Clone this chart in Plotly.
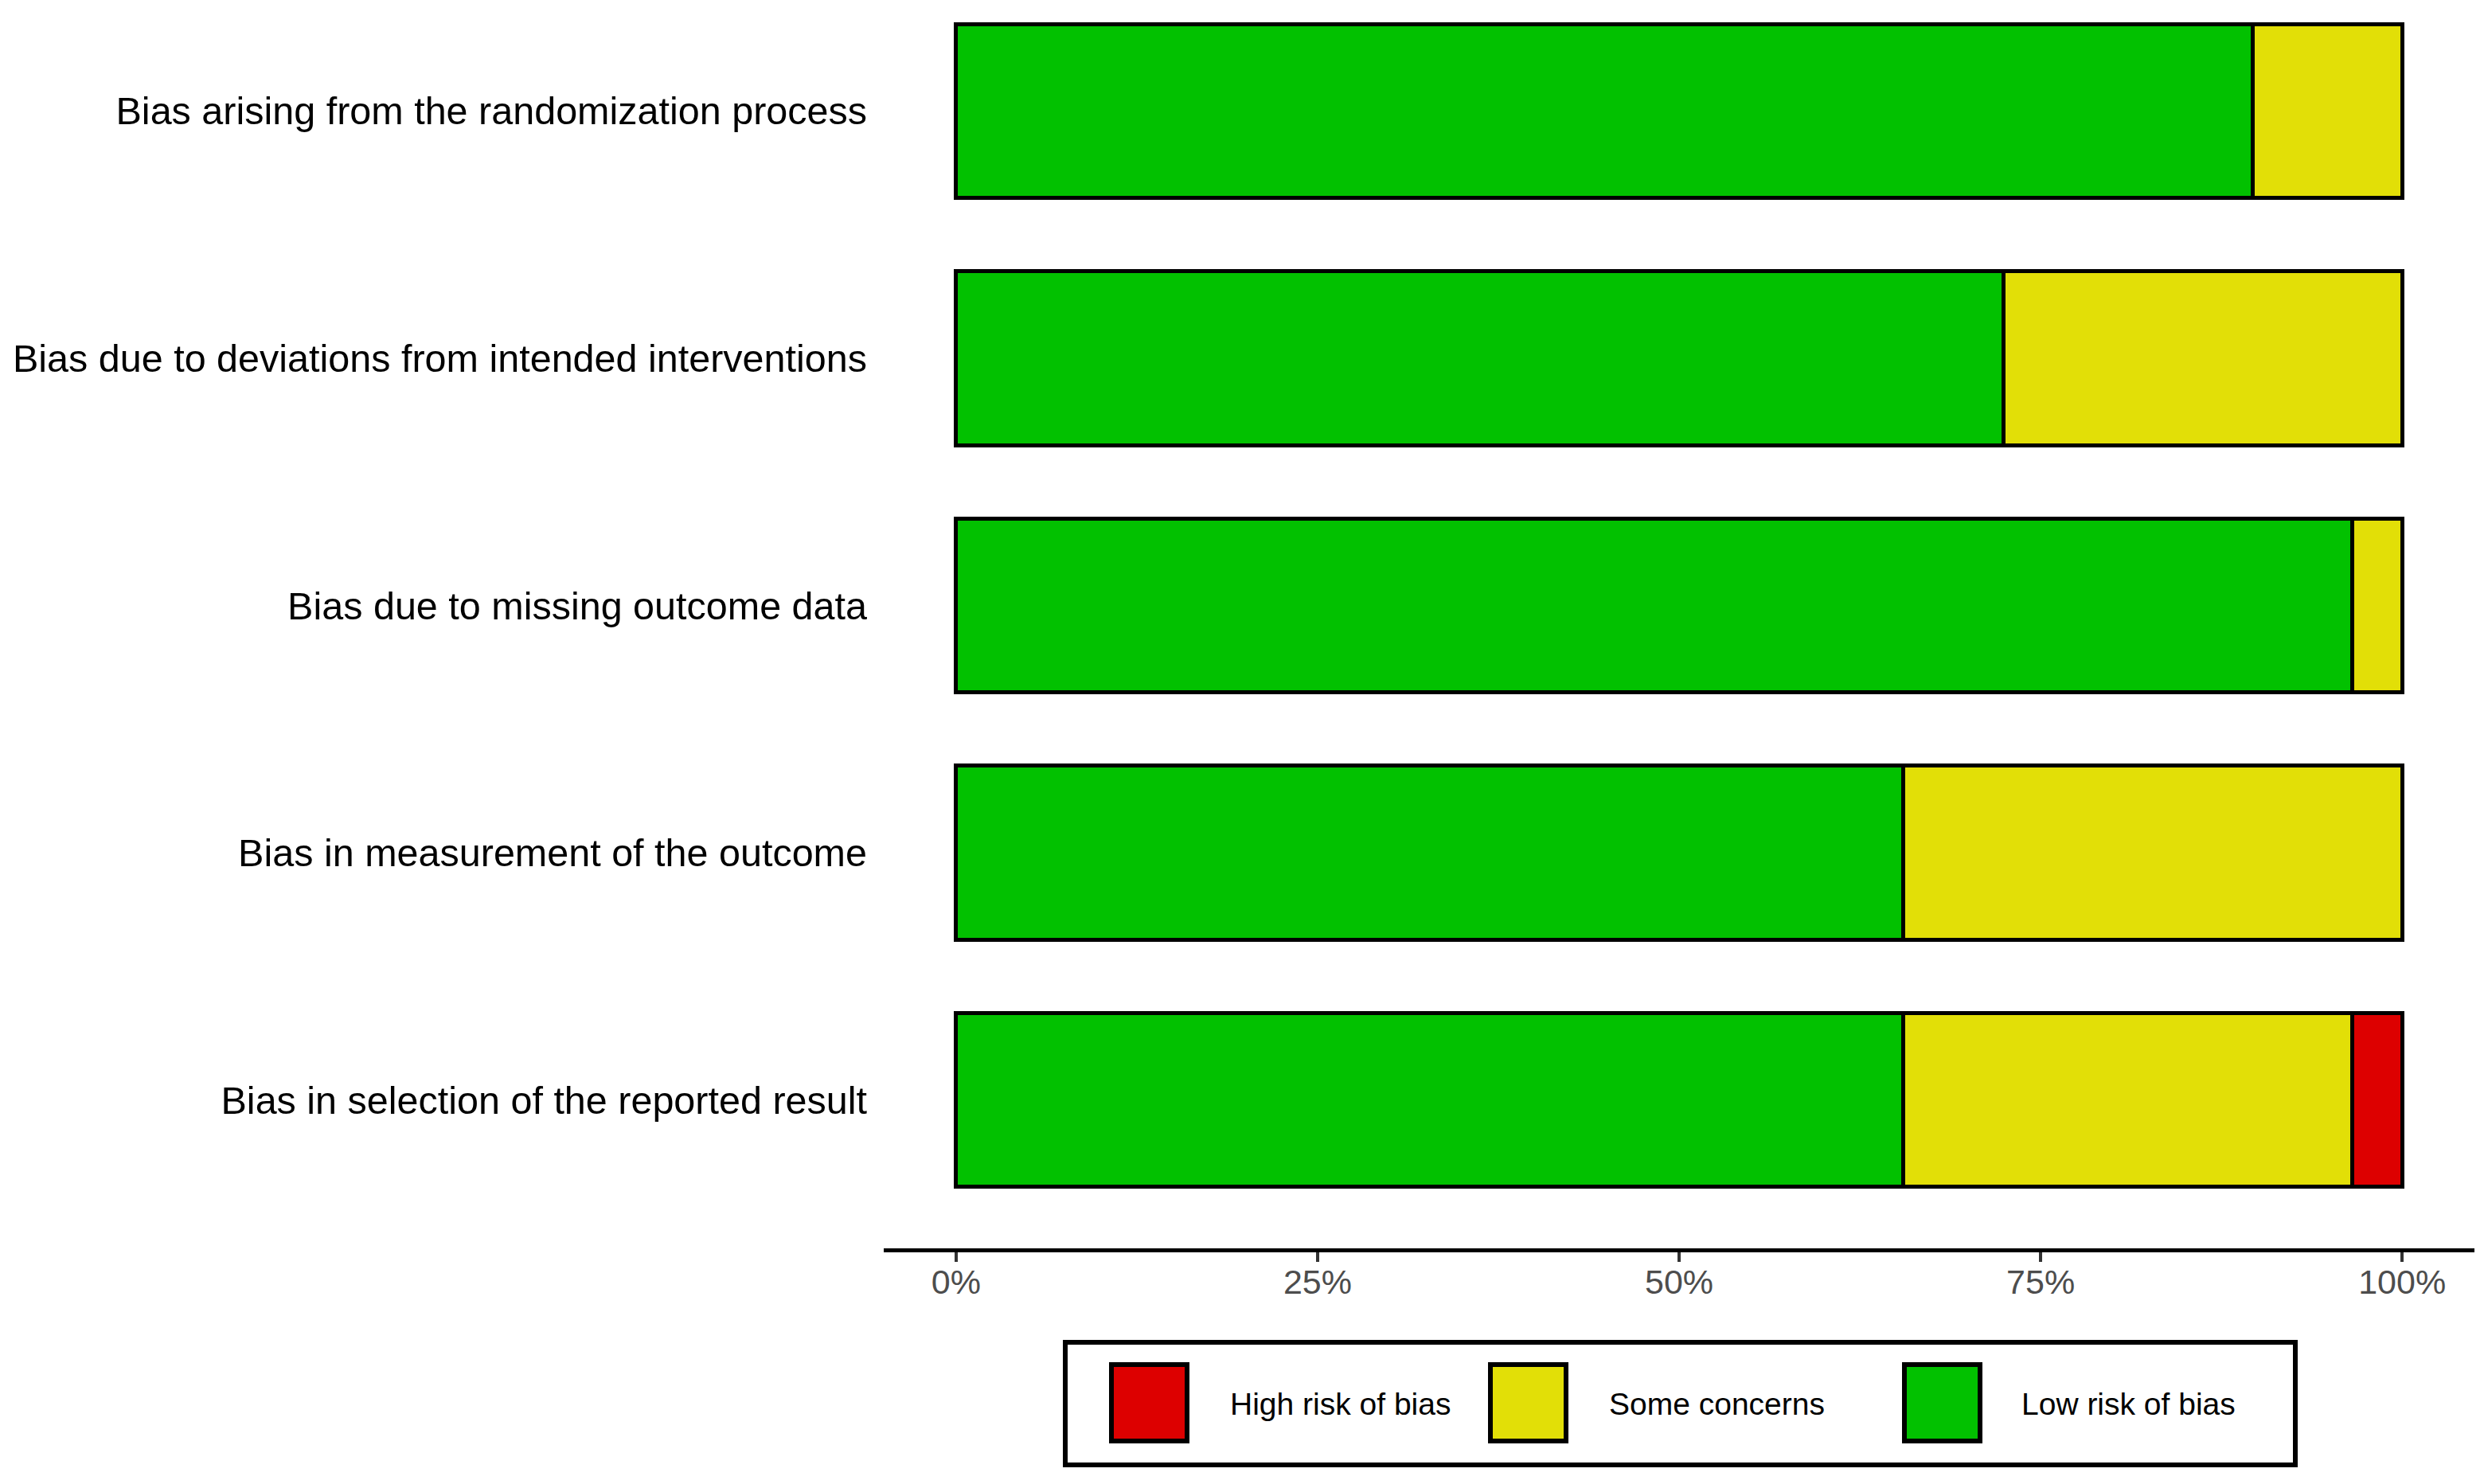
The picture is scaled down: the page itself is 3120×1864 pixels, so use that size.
import plotly.graph_objects as go

# ---- data ----
domains = [
    "Bias arising from the randomization process",
    "Bias due to deviations from intended interventions",
    "Bias due to missing outcome data",
    "Bias in measurement of the outcome",
    "Bias in selection of the reported result",
]
low_risk = [89.66, 72.41, 96.55, 65.52, 65.52]
some_concerns = [10.34, 27.59, 3.45, 34.48, 31.03]
high_risk = [0.0, 0.0, 0.0, 0.0, 3.45]
tick_vals = [0, 25, 50, 75, 100]
tick_text = ["0%", "25%", "50%", "75%", "100%"]
legend_labels = ["High risk of bias", "Some concerns", "Low risk of bias"]

C_LOW = "#02C100"
C_SOME = "#E2DF07"
C_HIGH = "#DD0000"

OFF = 8  # page body margin
W, H = 3120 - OFF, 1864 - OFF
L, R, T, B = 1102, 12, 0, 296
FONT = "Arial, Liberation Sans, sans-serif"


def px2x(px):
    return (px - OFF - L) / (W - L - R)


def py2y(py):
    return (H - B - (py - OFF)) / (H - T - B)


def nz(vals):
    return [v if v > 0 else None for v in vals]


fig = go.Figure()
for name, vals, col in [("Low risk of bias", low_risk, C_LOW),
                        ("Some concerns", some_concerns, C_SOME),
                        ("High risk of bias", high_risk, C_HIGH)]:
    fig.add_trace(go.Bar(
        x=nz(vals), y=domains, orientation="h", name=name,
        marker=dict(color=col, line=dict(color="black", width=5)),
        width=0.703, showlegend=False,
    ))

fig.update_layout(
    width=W, height=H, barmode="stack",
    margin=dict(l=L, r=R, t=T, b=B, autoexpand=False),
    paper_bgcolor="white", plot_bgcolor="white",
    font=dict(family=FONT, color="black"),
    xaxis=dict(range=[-5, 105], tickvals=tick_vals, ticktext=tick_text,
               showgrid=False, zeroline=False, showline=True, linecolor="black",
               linewidth=5, ticks="outside", ticklen=12, tickwidth=4, tickcolor="#333333",
               ticklabelstandoff=-12,
               tickfont=dict(size=43, color="#4D4D4D", family=FONT)),
    yaxis=dict(type="category", categoryorder="array", categoryarray=domains,
               range=[4.6, -0.4235], showgrid=False, zeroline=False, showline=False,
               ticks="", ticklabelstandoff=20,
               tickfont=dict(size=48.5, color="black", family=FONT)),
)

# ---- custom legend (box, keys, labels) ----
shapes = []
annotations = []
shapes.append(dict(type="rect", xref="paper", yref="paper",
                   x0=px2x(1338), x1=px2x(2883), y0=py2y(1686), y1=py2y(1840),
                   line=dict(color="black", width=6), fillcolor="white", layer="above"))
key_x = [1396, 1872, 2392]
lab_x = [1543, 2019, 2537]
for kx, lx, lab, col in zip(key_x, lab_x, legend_labels, [C_HIGH, C_SOME, C_LOW]):
    shapes.append(dict(type="rect", xref="paper", yref="paper",
                       x0=px2x(kx), x1=px2x(kx + 95), y0=py2y(1714), y1=py2y(1810),
                       line=dict(color="black", width=6), fillcolor=col, layer="above"))
    annotations.append(dict(x=px2x(lx), y=py2y(1763), xref="paper", yref="paper",
                            text=lab, showarrow=False, xanchor="left", yanchor="middle",
                            font=dict(size=39, color="black", family=FONT)))
fig.update_layout(shapes=shapes, annotations=annotations)

fig.write_html("out.html")
